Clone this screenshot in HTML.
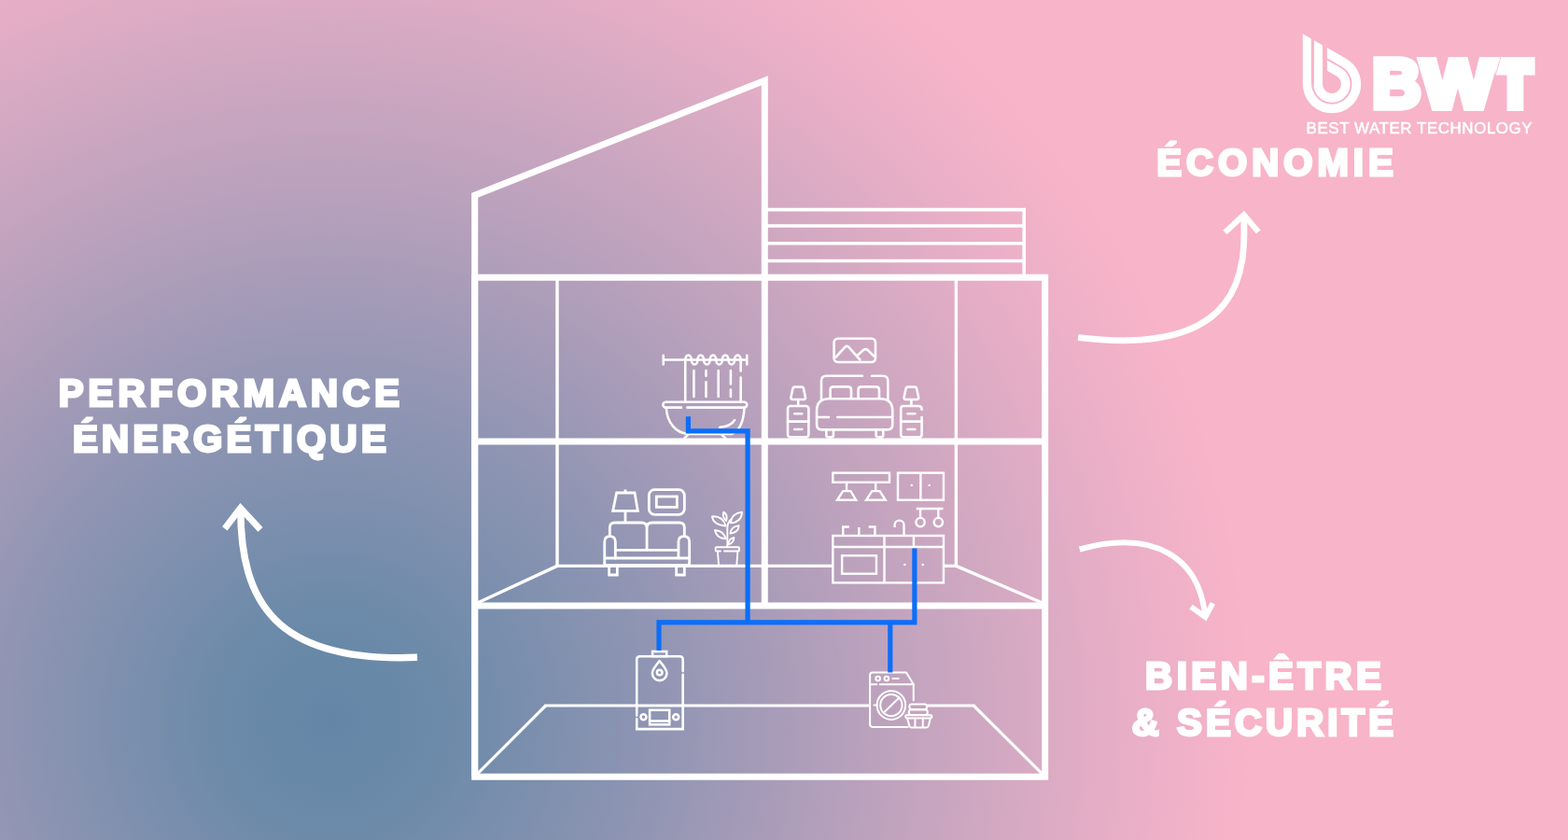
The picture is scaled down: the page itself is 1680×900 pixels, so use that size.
<!DOCTYPE html>
<html lang="fr">
<head>
<meta charset="utf-8">
<title>BWT – Performance énergétique, économie, bien-être &amp; sécurité</title>
<style>
  html, body { margin: 0; padding: 0; width: 1680px; height: 900px; overflow: hidden; background: #f8b4c9; }
  svg { display: block; will-change: transform; }
  text { font-family: "Liberation Sans", sans-serif; fill: #fff; }
  .h { fill: none; stroke: #fff; stroke-width: 7; stroke-linejoin: miter; stroke-linecap: butt; stroke-miterlimit: 10; }
  .t { fill: none; stroke: #fff; stroke-width: 3.4; stroke-linecap: butt; stroke-linejoin: miter; }
  .b { fill: none; stroke: #fff; stroke-width: 3.6; }
  .i { fill: none; stroke: #fff; stroke-linecap: round; stroke-linejoin: round; }
  .p { fill: none; stroke: #0b6efa; stroke-width: 5.2; stroke-linejoin: miter; stroke-linecap: butt; }
  .a { fill: none; stroke: #fff; stroke-linecap: butt; stroke-linejoin: miter; }
  .big { font-weight: bold; stroke: #fff; stroke-linejoin: miter; }
</style>
</head>
<body>
<svg width="1680" height="900" viewBox="0 0 1680 900">
<defs>
  <radialGradient id="bg" gradientUnits="userSpaceOnUse" cx="355" cy="772" r="985">
    <stop offset="0" stop-color="#6486a6"/>
    <stop offset="0.12" stop-color="#6c8aa9"/>
    <stop offset="0.35" stop-color="#8f95b3"/>
    <stop offset="0.6" stop-color="#bda2bd"/>
    <stop offset="0.85" stop-color="#e6aec6"/>
    <stop offset="1" stop-color="#f8b4c9"/>
  </radialGradient>
</defs>
<rect width="1680" height="900" fill="#f8b4c9"/>
<rect width="1680" height="900" fill="url(#bg)"/>
<!-- house structure -->
<g id="house">
  <path class="h" d="M508.7 832.3V209.2L819.3 86.3V649"/>
  <path class="h" d="M508.7 297.2H1119.7V832.3H508.7Z"/>
  <path class="h" d="M508.7 472.9H1119.7M508.7 649H1119.7"/>
  <path class="b" d="M819.3 224.6H1097.2V297M819.3 242H1097.2M819.3 260.8H1097.2M819.3 279.5H1097.2"/>
  <path class="t" d="M597 297.2V606.4M1024.4 297.2V606.4"/>
  <path class="t" d="M595.3 606.4H892M1011 606.4H1026.1"/>
  <path class="t" d="M597 606.4L510.5 646.5M1024.4 606.4L1118 646.5"/>
  <path class="t" style="stroke-width:3" d="M583.5 755.9H931M994 755.9H1044.4"/>
  <path class="t" style="stroke-width:3.2" d="M584.7 756L510.5 830.2M1043.2 756L1117.6 830.2"/>
</g>
<!-- room icons -->
<g id="icons">
  <!-- bathroom: shower curtain + bathtub -->
  <g class="i" transform="translate(700 370) scale(0.12227)" stroke-width="21">
    <path d="M88 127H820M88 88V168M820 88V168"/>
    <path d="M280 127a27 40 0 0 1 54 0a27 40 0 0 0 54 0a27 40 0 0 1 54 0a27 40 0 0 0 54 0a27 40 0 0 1 54 0a27 40 0 0 0 54 0a27 40 0 0 1 54 0a27 40 0 0 0 54 0a27 40 0 0 1 54 0"/>
    <path d="M280 127V495M766 127V225M766 282V495"/>
    <path d="M355 222V450M462 222V268M462 322V450M570 222V450M678 222V340M678 388V450"/>
    <path d="M109 497H796a24 24 0 0 1 0 48H298M245 545H109a24 24 0 0 1 0 -48"/>
    <path d="M113 548C120 680 200 768 300 776H690C760 745 792 650 797 548"/>
    <path d="M582 718C640 714 690 692 712 655"/>
    <path d="M305 782L272 815M598 782L632 815"/>
  </g>
  <!-- bedroom: picture, bed, nightstands with lamps -->
  <g class="i" transform="translate(836 355) scale(0.13333)" stroke-width="19.5">
    <rect x="432" y="58" width="333" height="190" rx="32"/>
    <path d="M447 208L518 128Q535 110 552 128L640 228M622 192L668 150Q685 136 702 150L753 200"/>
    <path d="M330 545V398Q330 358 370 358H660M735 358H825Q865 358 865 398V545"/>
    <path d="M402 535V470Q402 445 427 445H545Q570 445 570 470V535M627 535V470Q627 445 652 445H770Q795 445 795 470V535"/>
    <path d="M293 640Q293 542 391 542H804Q902 542 902 640V750Q902 790 862 790H333Q293 790 293 750Z"/>
    <path d="M300 690H390M460 690H895"/>
    <path d="M370 790V835Q370 850 385 850H412Q427 850 427 835V790M770 790V835Q770 850 785 850H812Q827 850 827 835V790"/>
    <rect x="60" y="600" width="168" height="250" rx="22"/>
    <path d="M60 725H228M114 662H174M114 788H174"/>
    <path d="M116 447H172Q184 447 187 460L202 528Q205 548 189 548H99Q83 548 86 528L101 460Q104 447 116 447ZM144 548V600"/>
    <path d="M1137 690V828Q1137 850 1115 850H991Q969 850 969 828V622Q969 600 991 600H1110Q1137 600 1137 628"/>
    <path d="M969 725H1137M1023 662H1083M1023 788H1083"/>
    <path d="M1025 447H1081Q1093 447 1096 460L1111 528Q1114 548 1098 548H1008Q992 548 995 528L1010 460Q1013 447 1025 447ZM1053 548V600"/>
  </g>
  <!-- living room: lamp, frame, sofa, plant -->
  <g class="i" transform="translate(636 510) scale(0.13333)" stroke-width="21">
    <path d="M255 108V135M185 135H330L355 280H155ZM255 280V372" stroke-linejoin="miter" stroke-linecap="butt"/>
    <rect x="445" y="110" width="285" height="200" rx="45"/>
    <rect x="505" y="165" width="165" height="85" stroke-linejoin="miter"/>
    <path d="M130 485V415Q130 375 170 375H385Q428 375 428 418V592M428 418Q428 375 470 375H690Q730 375 730 415V485"/>
    <path d="M88 700V530Q88 485 131 485Q175 485 175 530V660M770 700V530Q770 485 727 485Q682 485 682 530V660"/>
    <path d="M175 595H682M95 660H765M88 700Q88 718 105 718H755Q770 718 770 700"/>
    <path d="M125 728V795H190V728M665 728V795H730V728" stroke-linejoin="miter"/>
  </g>
  <g class="i" transform="translate(636 510) scale(0.13333)" stroke-width="14">
    <path d="M988 572H1162Q1170 572 1170 580V596Q1170 604 1162 604H1050M1020 604H988Q980 604 980 596V580Q980 572 988 572"/>
    <path d="M997 606L1005 712M1158 606L1150 712"/>
    <path d="M1075 570V420Q1075 370 1108 345"/>
    <path d="M1062 402Q960 390 952 325Q1040 320 1062 402Z"/>
    <path d="M1100 378Q1110 300 1192 290Q1190 370 1100 378Z"/>
    <path d="M1066 360Q1030 330 1045 290Q1080 310 1066 360Z"/>
    <path d="M1062 505Q985 500 975 435Q1045 440 1062 505Z"/>
    <path d="M1098 462Q1105 405 1168 398Q1165 455 1098 462Z"/>
    <path d="M1080 552Q1085 505 1128 495Q1128 540 1080 552Z"/>
  </g>
  <!-- kitchen -->
  <g class="i" transform="translate(876 495) scale(0.15549)" stroke-width="15.5" style="stroke-linejoin:miter;stroke-linecap:butt">
    <rect x="105" y="75" width="390" height="65"/>
    <path d="M200 140V200M400 140V200M175 200H228L265 262H135ZM375 200H428L468 262H335Z"/>
    <rect x="553" y="75" width="315" height="187"/>
    <path d="M710 75V262M680 322H865M708 322V385M832 322V385"/>
    <circle cx="708" cy="415" r="30"/><circle cx="832" cy="415" r="30"/>
    <circle cx="648" cy="160" r="8" fill="#fff" stroke="none"/><circle cx="770" cy="160" r="8" fill="#fff" stroke="none"/>
    <rect x="105" y="508" width="763" height="324"/>
    <path d="M105 585H868M460 508V832M662 508V585"/>
    <rect x="168" y="645" width="237" height="125"/>
    <path d="M175 505V447H218M285 505V450M395 505V447H352"/>
    <path d="M595 505V435A32 32 0 0 0 531 435V450"/>
    <circle cx="600" cy="708" r="8" fill="#fff" stroke="none"/><circle cx="725" cy="708" r="8" fill="#fff" stroke="none"/>
  </g>
  <!-- water heater -->
  <g class="i" transform="translate(660 690) scale(0.11111)" stroke-width="23">
    <path d="M200 690V150Q200 120 230 120H615Q645 120 645 150V262M645 295V820H200V722" stroke-linejoin="miter"/>
    <rect x="352" y="72" width="136" height="46" stroke-linejoin="miter"/>
    <path d="M420 162C455 210 490 242 490 282A70 70 0 0 1 350 282C350 242 385 210 420 162Z"/>
    <circle cx="420" cy="275" r="25"/>
    <rect x="325" y="637" width="190" height="140" stroke-linejoin="miter"/>
    <path d="M325 742H515"/>
    <circle cx="265" cy="705" r="27"/><circle cx="578" cy="705" r="27"/>
  </g>
  <!-- washing machine + laundry basket -->
  <g class="i" transform="translate(916 700) scale(0.11111)" stroke-width="18">
    <path d="M145 210Q145 185 170 185H495L565 300V455M510 710H170Q145 710 145 685V210"/>
    <path d="M145 300H210M240 300H565"/>
    <circle cx="222" cy="243" r="21"/><circle cx="305" cy="243" r="21"/>
    <path d="M365 243H420"/>
    <circle cx="350" cy="500" r="138"/><circle cx="350" cy="500" r="105"/>
    <path d="M285 565L420 435M185 500H212"/>
    <rect x="525" y="490" width="170" height="50" rx="22"/>
    <rect x="520" y="545" width="180" height="48" rx="22"/>
    <rect x="488" y="597" width="254" height="28" rx="12"/>
    <path d="M505 625L525 700Q528 715 545 715H690Q705 715 710 700L727 625M580 625V715M655 625V715"/>
  </g>
</g>
<!-- water pipes -->
<g id="pipes">
  <path class="p" d="M737.4 446.2V461.9H801.1V666.8"/>
  <path class="p" d="M706 697V666.8H979.9V587.5"/>
  <path class="p" d="M953.8 666.8V720.5"/>
</g>
<!-- arrows -->
<g id="arrows">
  <path class="a" stroke-width="7.5" d="M447.1 704.3C293.1 710.3 258 643 257.8 546"/>
  <path class="a" stroke-width="7" d="M240.8 566.4L257.7 544.4L279 567.3"/>
  <path class="a" stroke-width="6.8" d="M1155.1 361.7C1334.8 383.4 1334.5 286.2 1332.7 232"/>
  <path class="a" stroke-width="6.2" d="M1312.4 249L1332.7 230.3L1348.3 248.4"/>
  <path class="a" stroke-width="6" d="M1156.7 588.5C1238.1 565.9 1284.9 598.8 1291.2 660"/>
  <path class="a" stroke-width="5.8" d="M1276 650.2L1291.4 661.2L1299.4 646.3"/>
</g>
<!-- labels -->
<g id="labels" stroke-miterlimit="3">
  <text class="big" x="62.7" y="434.5" font-size="40.2" stroke-width="2.9" style="letter-spacing:5.04px" textLength="370.35" lengthAdjust="spacingAndGlyphs">PERFORMANCE</text>
  <text class="big" x="77.95" y="484.2" font-size="40.2" stroke-width="2.9" style="letter-spacing:4.31px" textLength="340.15" lengthAdjust="spacingAndGlyphs">ÉNERGÉTIQUE</text>
  <text class="big" x="1239.35" y="188" font-size="40.2" stroke-width="2.9" style="letter-spacing:4.98px" textLength="258.4" lengthAdjust="spacingAndGlyphs">ÉCONOMIE</text>
  <text class="big" x="1227.1" y="737.5" font-size="40.2" stroke-width="2.9" style="letter-spacing:4.52px" textLength="257.3" lengthAdjust="spacingAndGlyphs">BIEN-ÊTRE</text>
  <text class="big" x="1212.7" y="788" font-size="40.2" stroke-width="2.9" style="letter-spacing:4.12px" textLength="284.5" lengthAdjust="spacingAndGlyphs">&amp; SÉCURITÉ</text>
</g>
<g id="accent-gaps" fill="url(#bg)"><rect x="77.0" y="453.35" width="28" height="1.7"/><rect x="241.5" y="453.35" width="28" height="1.7"/><rect x="1238.3" y="157.15" width="28" height="1.7"/><rect x="1358.1" y="706.65" width="28" height="1.7"/><rect x="1291.0" y="757.15" width="28" height="1.7"/><rect x="1465.3" y="757.15" width="28" height="1.7"/></g>
<!-- BWT logo -->
<g id="logo">
  <path fill="#fff" d="M1395.8 36.2L1442.6 63.1A31.2 31.2 0 1 1 1395.8 90.1Z"/>
  <path fill="none" stroke="#f8b4c9" stroke-width="1.9" d="M1406.4 42V90.1A20.6 20.6 0 1 0 1437.3 72.3L1421.9 63.4"/>
  <path fill="#f8b4c9" d="M1404.8 40V88L1406.4 98L1407.9 88V40Z"/>
  <path fill="#f8b4c9" d="M1417.1 48V90.1A9.9 9.9 0 1 0 1431.95 81.5L1421.9 75.7V50.8Z"/>
  <text font-weight="bold" stroke="#fff" stroke-linejoin="miter" lengthAdjust="spacingAndGlyphs"><tspan x="1470.2" y="115.1" font-size="73.6" stroke-width="7.4" textLength="52.1" lengthAdjust="spacingAndGlyphs">B</tspan><tspan x="1523.2" y="115.1" font-size="72.7" stroke-width="8" textLength="77.5" lengthAdjust="spacingAndGlyphs">W</tspan><tspan x="1606.8" y="113.2" font-size="66.9" stroke-width="12" textLength="33.5" lengthAdjust="spacingAndGlyphs">T</tspan></text>
  <path fill="none" stroke="#f8b4c9" stroke-width="0.9" opacity="0.85" d="M1607.9 61L1602.4 80.6"/>
  <text x="1399.6" y="143" font-size="15.7" stroke="#fff" stroke-width="0.5" style="letter-spacing:0.5px" textLength="242.6" lengthAdjust="spacingAndGlyphs">BEST WATER TECHNOLOGY</text>
</g>
</svg>
</body>
</html>
